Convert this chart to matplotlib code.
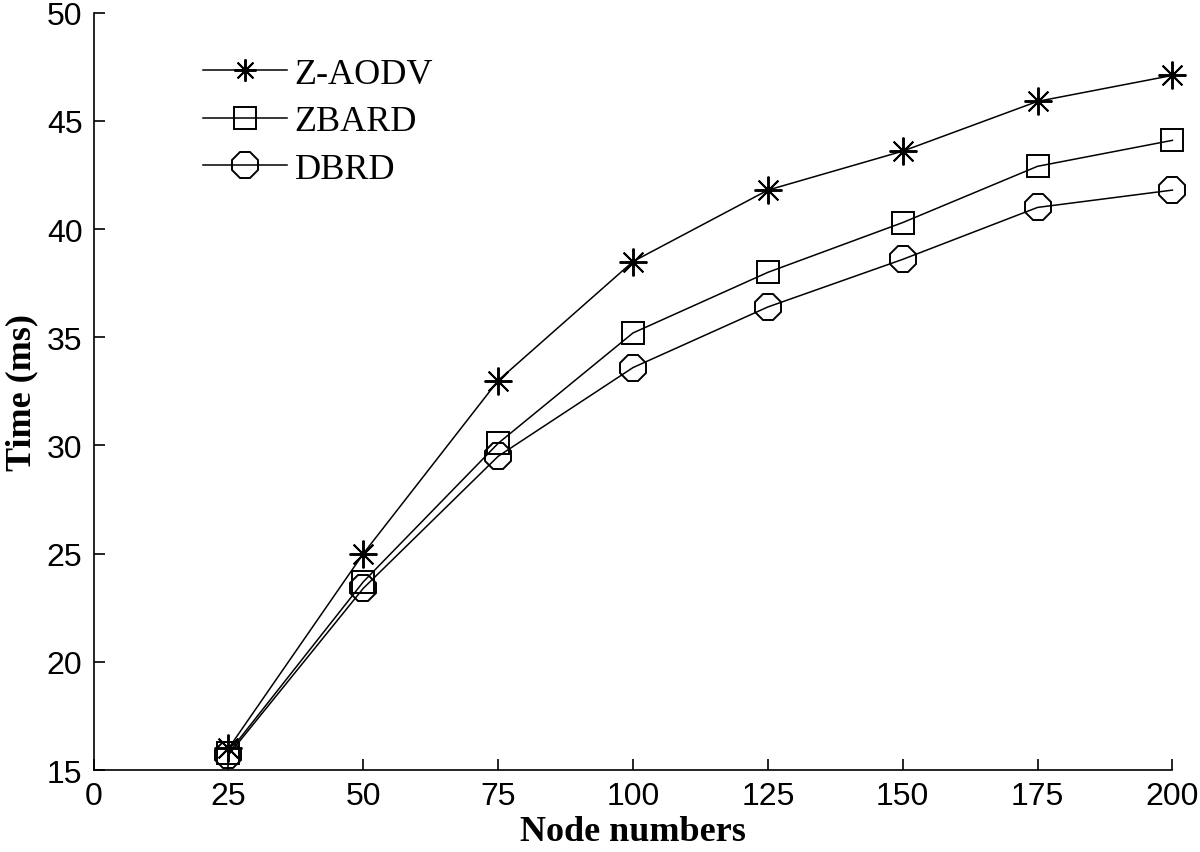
import numpy as np
import matplotlib.pyplot as plt

nodes = [25, 50, 75, 100, 125, 150, 175, 200]
z_aodv = [16.0, 25.0, 33.0, 38.5, 41.8, 43.6, 45.9, 47.1]
zbard = [15.8, 23.7, 30.1, 35.2, 38.0, 40.3, 42.9, 44.1]
dbrd = [15.7, 23.4, 29.5, 33.6, 36.4, 38.6, 41.0, 41.8]

x_ticks = [0, 25, 50, 75, 100, 125, 150, 175, 200]
y_ticks = [15, 20, 25, 30, 35, 40, 45, 50]

fig = plt.figure(figsize=(12, 8.53), dpi=100)
ax = fig.add_axes([0.078, 0.096, 0.899, 0.888])

ax.plot(nodes, z_aodv, color='black', lw=1.1, marker=(8, 2, 0), ms=20,
        mew=1.4, label='Z-AODV', clip_on=False)
ax.plot(nodes, zbard, color='black', lw=1.1, marker='s', ms=16,
        mfc='none', mew=1.4, label='ZBARD', clip_on=False)
ax.plot(nodes, dbrd, color='black', lw=1.1, marker='8', ms=20,
        mfc='none', mew=1.4, label='DBRD', clip_on=False)

ax.set_xlim(0, 200)
ax.set_ylim(15, 50)
ax.set_xticks(x_ticks)
ax.set_yticks(y_ticks)

ax.spines['top'].set_visible(False)
ax.spines['right'].set_visible(False)
for s in ['left', 'bottom']:
    ax.spines[s].set_linewidth(1.2)
ax.tick_params(direction='in', length=8, width=1.2, pad=8)
for lab in ax.get_xticklabels() + ax.get_yticklabels():
    lab.set_fontfamily('Liberation Sans')
    lab.set_fontsize(23)

ax.set_xlabel('Node numbers', fontfamily='Liberation Serif', fontweight='bold',
              fontsize=26, labelpad=3)
ax.set_ylabel('Time (ms)', fontfamily='Liberation Serif', fontweight='bold',
              fontsize=26, labelpad=6)

leg = ax.legend(loc='upper left', bbox_to_anchor=(0.101, 0.941), frameon=False,
                prop={'family': 'Liberation Serif', 'size': 26},
                handlelength=2.35, handletextpad=0.2, labelspacing=0.4,
                borderaxespad=0, borderpad=0)
leg.legend_handles[0].set_markersize(16)

fig.savefig('out.png', dpi=100)
